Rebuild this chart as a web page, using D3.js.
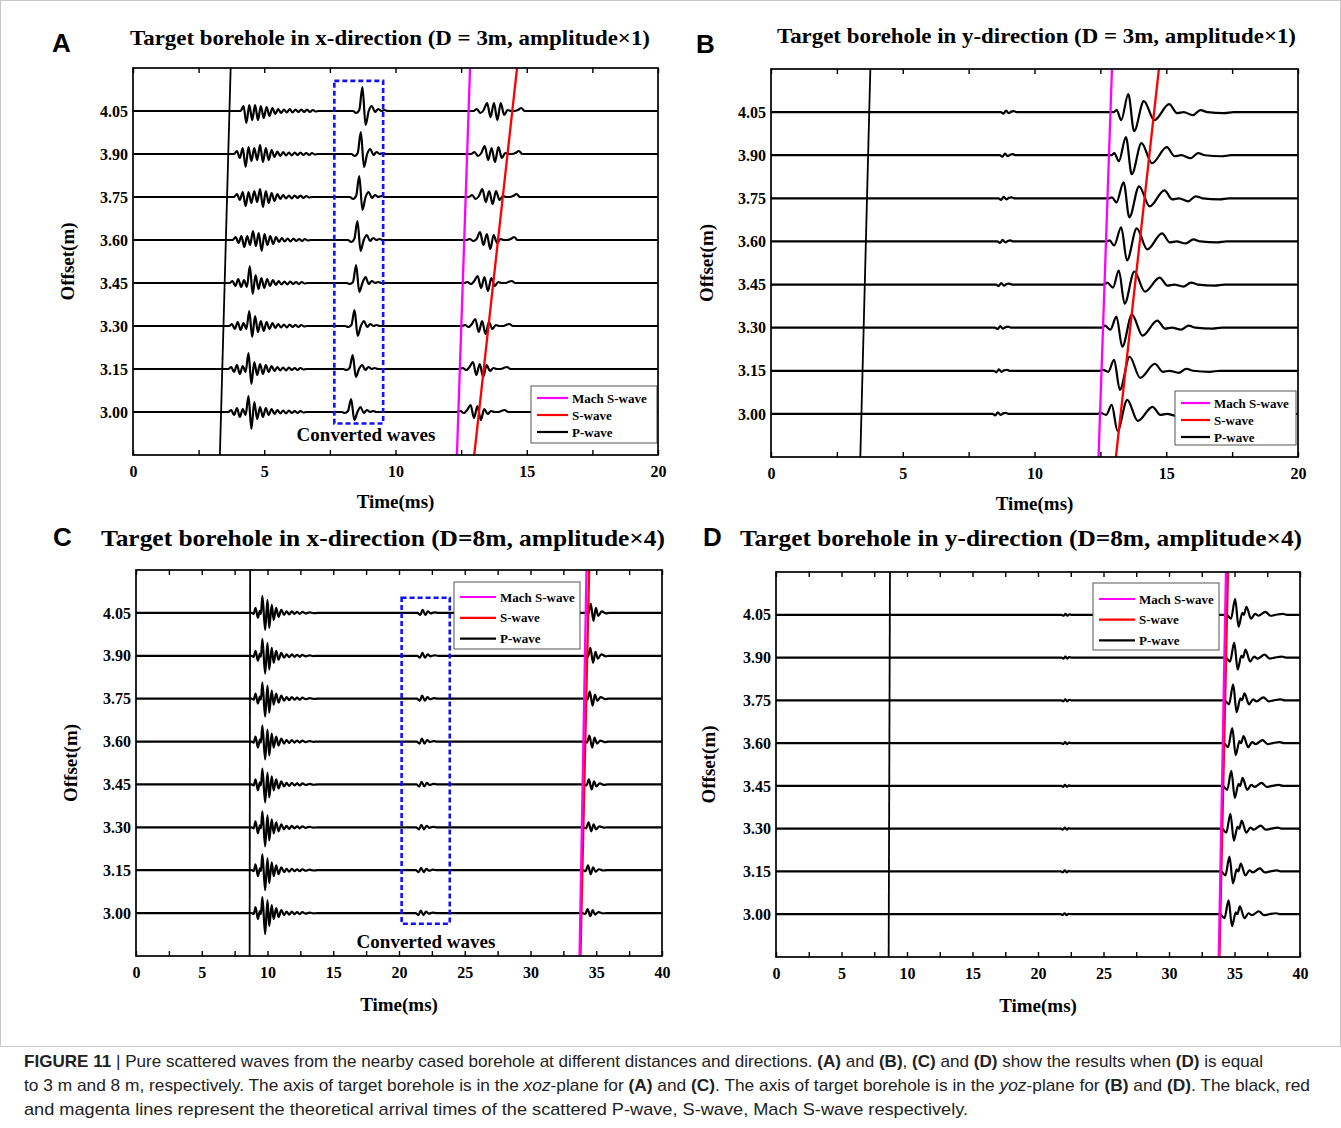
<!DOCTYPE html>
<html><head><meta charset="utf-8">
<script src="https://cdn.jsdelivr.net/npm/d3@7"></script>
<style>body{margin:0;background:#fff}</style>
</head><body>
<svg id="c" width="1341" height="1128"></svg>
<script>
// ---------------- DATA ----------------
const offsets = [4.05, 3.90, 3.75, 3.60, 3.45, 3.30, 3.15, 3.00];
const xTicks20 = [0, 5, 10, 15, 20];
const xTicks40 = [0, 5, 10, 15, 20, 25, 30, 35, 40];
const legendLabels = ["Mach S-wave", "S-wave", "P-wave"];
// theoretical arrivals: time (ms) at offset 2.85 m and at 4.20 m  [P, S, Mach]
const arrivalOffsets = [2.85, 4.20];
const arrivalsA = [[3.31, 3.72], [13.00, 14.63], [12.34, 12.84]];
const arrivalsB = [[3.39, 3.77], [13.09, 14.72], [12.43, 12.94]];
const arrivalsC = [[8.64, 8.68], [33.80, 34.46], [33.73, 34.26]];
const arrivalsD = [[8.60, 8.70], [33.85, 34.50], [33.80, 34.35]];
// converted-wave boxes: [t0, t1, off0, off1]
const boxA = [7.67, 9.53, 2.96, 4.155];
const boxC = [20.20, 23.86, 2.963, 4.103];

// trace segments. either [t0, dt, [amplitudes]] (regular samples) or [[t, amp], ...]
// amplitude unit: 1 = 1/43 of the 0.15 m trace spacing
const codaA = [
 [4.10,0.11,[0,5,-12,6,-9,6,-9,5,-7,4,-5,3,-3,2,-2,1.5,-1.5,2,-1.5,1.5,-1,1.5,-1,1.5,-1,1,-0.5,0]],
 [3.85,0.11,[0,3,-4,6,-13,7,-7,6,-6,9,-8,6,-6,4,-3,2.5,-2,2,-1.5,1.5,-1.5,1.5,-1,1.5,-1,1,-1,1,-0.5,0]],
 [3.85,0.11,[0,3,-3,5,-9,5,-6,6,-5,8,-10,6,-6,4,-4,3,-2,2,-1.5,1.5,-1.5,1.5,-1,1.5,-1,1,-0.5,0]],
 [3.80,0.11,[0,3,-3,4,-7,4,-5,9,-6,7,-11,6,-5,4,-4,3,-2,2,-1.5,1.5,-1.5,1.5,-1,1,-1,1,-0.5,0]],
 [3.68,0.11,[0,2,-3,4,-4,3,-4,17,-11,8,-6,5,-5,4,-3,3,-2,2,-1.5,1.5,-1.5,1.5,-1,1,-1,1,-0.5,0]],
 [3.66,0.11,[0,2,-3,4,-4,3,-3,15,-11,10,-6,5,-5,4,-3,3,-2,2,-1.5,1.5,-1.5,1.5,-1,1,-1,1,-0.5,0]],
 [3.63,0.11,[0,2,-3,4,-5,3,-3,16,-15,7,-6,5,-5,4,-3,3,-2,2,-1.5,1.5,-1.5,1.5,-1,1,-1,1,-0.5,0]],
 [3.63,0.11,[0,2,-3,4,-5,3,-3,16,-17,10,-7,5,-5,4,-3,3,-2,2,-1.5,1.5,-1.5,1.5,-1,1,-1,1,-0.5,0]]
];
const convA = [
 [8.38,0.12,[0,-2,1,24,-14,0,5,-1,2,0,1,0]],
 [8.32,0.12,[0,-2,1,22,-13,0,5,-1,2,0,1,0]],
 [8.26,0.12,[0,-2,1,21,-13,0,5,-1,2,0,1,0]],
 [8.19,0.12,[0,-2,1,19,-11,0,5,-1,2,0,1,0]],
 [8.14,0.12,[0,-1,1,18,-9,0,6,-1,2,0,1,0]],
 [8.08,0.12,[0,-1,1,16,-10,0,5,-1,2,0,1,0]],
 [8.01,0.12,[0,-1,1,14,-8,0,4,-1,2,0,1,0]],
 [7.95,0.12,[0,-1,1,13,-8,0,5,-1,2,0,1,0]]
];
const shearA = [
 [12.97,0.13,[0,2,-2,1,8,-6,8,-9,8,-4,1,0,0,1,3,0]],
 [12.88,0.13,[0,2,-2,1,8,-6,6,-8,7,-4,1,0,0,1,3,0]],
 [12.79,0.13,[0,2,-2,1,8,-5,6,-7,6,-3,1,0,0,1,3,0]],
 [12.70,0.13,[0,1,-1,1,8,-5,6,-9,5,-3,1,0,0,1,3,0]],
 [12.61,0.13,[0,1,-1,2,7,-5,6,-8,5,-3,1,0,0,1,2,0]],
 [12.52,0.13,[0,1,-1,2,7,-6,5,-8,4,-3,1,0,0,1,2,0]],
 [12.43,0.13,[0,1,-1,2,7,-6,5,-8,4,-2,1,0,0,1,2,0]],
 [12.34,0.13,[0,1,-1,2,7,-6,6,-8,3,-2,1,0,0,1,2,0]]
];
const preB = [
 [8.72,0.1,[0,-1.5,1.5,-1,0.5,1,0]], [8.68,0.1,[0,-1.5,1.5,-1,0.5,1,0]],
 [8.63,0.1,[0,-1.5,1.5,-1,0.5,1,0]], [8.59,0.1,[0,-1.5,1.5,-1,0.5,1,0]],
 [8.54,0.1,[0,-1.5,1.5,-1,0.5,1,0]], [8.50,0.1,[0,-1.5,1.5,-1,0.5,1,0]],
 [8.45,0.1,[0,-1.5,1.5,-1,0.5,1,0]], [8.41,0.1,[0,-1.5,1.5,-1,0.5,1,0]]
];
const shearB = [
 [[13.01,0],[13.12,2],[13.29,-8],[13.56,18],[13.78,-19],[14.15,11],[14.55,-8],[15.11,8],[15.41,-1],[15.66,0],[16.01,-3],[16.30,2],[16.56,0],[17.20,-1],[17.56,0]],
 [[12.92,0],[13.03,2],[13.20,-6],[13.47,18],[13.69,-19],[14.06,12],[14.46,-8],[15.02,8],[15.32,-1],[15.57,0],[15.92,-3],[16.21,2],[16.47,0],[17.11,-1],[17.47,0]],
 [[12.83,0],[12.94,1],[13.11,-4],[13.38,16],[13.60,-19],[13.97,12],[14.37,-8],[14.93,8],[15.23,-1],[15.48,0],[15.83,-3],[16.12,2],[16.38,0],[17.02,-1],[17.38,0]],
 [[12.74,0],[12.85,1],[13.02,-4],[13.29,14],[13.51,-19],[13.88,13],[14.28,-8],[14.84,8],[15.14,-1],[15.39,0],[15.74,-2],[16.03,2],[16.29,0],[16.93,-1],[17.29,0]],
 [[12.65,0],[12.76,2],[12.98,-3],[13.20,14],[13.42,-19],[13.79,13],[14.19,-7],[14.75,7],[15.05,-1],[15.30,0],[15.65,-2],[15.94,2],[16.20,0],[16.84,-1],[17.20,0]],
 [[12.56,0],[12.67,2],[12.88,-2],[13.11,11],[13.33,-19],[13.70,13],[14.10,-8],[14.66,7],[14.96,-1],[15.21,0],[15.56,-2],[15.85,2],[16.11,0],[16.75,-1],[17.11,0]],
 [[12.47,0],[12.60,1],[12.80,-1],[13.02,11],[13.24,-19],[13.61,14],[14.01,-7],[14.57,7],[14.87,-1],[15.12,0],[15.47,-2],[15.76,2],[16.02,0],[16.66,-1],[17.02,0]],
 [[12.38,0],[12.50,1],[12.72,-1],[12.93,9],[13.15,-17],[13.52,14],[13.92,-7],[14.48,7],[14.78,-1],[15.03,0],[15.38,-2],[15.67,2],[15.93,0],[16.57,-1],[16.93,0]]
];
const codaC = [
 [[8.8,0],[8.95,-1],[9.09,5],[9.27,-5],[9.42,2],[9.5,-1],[9.61,17],[9.82,-17],[10.0,13],[10.13,-15],[10.32,8],[10.47,-7],[10.66,5],[10.84,-4],[11.05,3],[11.26,-2],[11.45,1.5],[11.65,-1.5],[11.85,1.5],[12.05,-1],[12.25,1],[12.45,-1],[12.65,1],[12.9,-0.5],[13.2,0.5],[13.5,-0.3],[13.8,0]],
 [[8.8,0],[8.95,-1],[9.09,5],[9.27,-5],[9.42,2],[9.5,-1],[9.61,17],[9.82,-18],[10.0,13],[10.13,-14],[10.32,8],[10.47,-7],[10.66,5],[10.84,-4],[11.05,3],[11.26,-2],[11.45,1.5],[11.65,-1.5],[11.85,1.5],[12.05,-1],[12.25,1],[12.45,-1],[12.65,1],[12.9,-0.5],[13.2,0.5],[13.5,-0.3],[13.8,0]],
 [[8.8,0],[8.95,-1],[9.09,5],[9.27,-5],[9.42,2],[9.5,-1],[9.61,16],[9.82,-18],[10.0,13],[10.13,-14],[10.32,8],[10.47,-6],[10.66,5],[10.84,-4],[11.05,3],[11.26,-2],[11.45,1.5],[11.65,-1.5],[11.85,1.5],[12.05,-1],[12.25,1],[12.45,-1],[12.65,1],[12.9,-0.5],[13.2,0.5],[13.5,-0.3],[13.8,0]],
 [[8.8,0],[8.95,-1],[9.09,5],[9.27,-6],[9.42,2],[9.5,-1],[9.61,16],[9.82,-18],[10.0,12],[10.13,-14],[10.32,8],[10.47,-6],[10.66,5],[10.84,-4],[11.05,3],[11.26,-2],[11.45,1.5],[11.65,-1.5],[11.85,1.5],[12.05,-1],[12.25,1],[12.45,-1],[12.65,1],[12.9,-0.5],[13.2,0.5],[13.5,-0.3],[13.8,0]],
 [[8.8,0],[8.95,-1],[9.09,5],[9.27,-6],[9.42,2],[9.5,-1],[9.61,16],[9.82,-18],[10.0,12],[10.13,-13],[10.32,8],[10.47,-6],[10.66,5],[10.84,-4],[11.05,3],[11.26,-2],[11.45,1.5],[11.65,-1.5],[11.85,1.5],[12.05,-1],[12.25,1],[12.45,-1],[12.65,1],[12.9,-0.5],[13.2,0.5],[13.5,-0.3],[13.8,0]],
 [[8.8,0],[8.95,-1],[9.09,6],[9.27,-6],[9.42,2],[9.5,-1],[9.61,16],[9.82,-19],[10.0,12],[10.13,-13],[10.32,8],[10.47,-6],[10.66,5],[10.84,-4],[11.05,3],[11.26,-2],[11.45,1.5],[11.65,-1.5],[11.85,1.5],[12.05,-1],[12.25,1],[12.45,-1],[12.65,1],[12.9,-0.5],[13.2,0.5],[13.5,-0.3],[13.8,0]],
 [[8.8,0],[8.95,-1],[9.09,6],[9.27,-6],[9.42,2],[9.5,-1],[9.61,16],[9.82,-20],[10.0,12],[10.13,-13],[10.32,8],[10.47,-6],[10.66,5],[10.84,-4],[11.05,3],[11.26,-2],[11.45,1.5],[11.65,-1.5],[11.85,1.5],[12.05,-1],[12.25,1],[12.45,-1],[12.65,1],[12.9,-0.5],[13.2,0.5],[13.5,-0.3],[13.8,0]],
 [[8.8,0],[8.95,-1],[9.09,6],[9.27,-6],[9.42,2],[9.5,-1],[9.61,16],[9.82,-21],[10.0,13],[10.13,-13],[10.32,8],[10.47,-6],[10.66,5],[10.84,-4],[11.05,3],[11.26,-2],[11.45,1.5],[11.65,-1.5],[11.85,1.5],[12.05,-1],[12.25,1],[12.45,-1],[12.65,1],[12.9,-0.5],[13.2,0.5],[13.5,-0.3],[13.8,0]]
];
const convC = [
 [[21.40,0],[21.62,-2],[21.80,3],[22.00,-2],[22.20,1.5],[22.40,-0.5],[22.70,0.5],[23.00,0]],
 [[21.38,0],[21.60,-2],[21.78,3],[21.98,-2],[22.18,1.5],[22.38,-0.5],[22.68,0.5],[22.98,0]],
 [[21.36,0],[21.58,-2],[21.76,3],[21.96,-2],[22.16,1.5],[22.36,-0.5],[22.66,0.5],[22.96,0]],
 [[21.34,0],[21.56,-2],[21.74,3],[21.94,-2],[22.14,1.5],[22.34,-0.5],[22.64,0.5],[22.94,0]],
 [[21.32,0],[21.54,-2],[21.72,2.5],[21.92,-2],[22.12,1.5],[22.32,-0.5],[22.62,0.5],[22.92,0]],
 [[21.30,0],[21.52,-2],[21.70,2.5],[21.90,-2],[22.10,1.5],[22.30,-0.5],[22.60,0.5],[22.90,0]],
 [[21.28,0],[21.50,-2],[21.68,2.5],[21.88,-2],[22.08,1.5],[22.28,-0.5],[22.58,0.5],[22.88,0]],
 [[21.26,0],[21.48,-2],[21.66,2.5],[21.86,-2],[22.06,1.5],[22.26,-0.5],[22.56,0.5],[22.86,0]]
];
const shearC = [
 [[34.20,0],[34.40,-1],[34.58,9],[34.79,-8],[34.97,5],[35.15,-3],[35.41,1.5],[35.75,-0.5],[36.00,0]],
 [[34.17,0],[34.37,-1],[34.55,8],[34.76,-7],[34.94,4],[35.12,-3],[35.38,1.5],[35.72,-0.5],[35.97,0]],
 [[34.13,0],[34.33,-1],[34.51,7],[34.72,-7],[34.90,4],[35.08,-2],[35.34,1.5],[35.68,-0.5],[35.93,0]],
 [[34.10,0],[34.30,-1],[34.48,6],[34.69,-6],[34.87,4],[35.05,-2],[35.31,1],[35.65,-0.5],[35.90,0]],
 [[34.06,0],[34.26,-1],[34.44,5],[34.65,-5],[34.83,3],[35.01,-2],[35.27,1],[35.61,-0.5],[35.86,0]],
 [[34.03,0],[34.23,-1],[34.41,5],[34.62,-4],[34.80,3],[34.98,-2],[35.24,1],[35.58,-0.3],[35.83,0]],
 [[33.99,0],[34.19,-1],[34.37,5],[34.58,-4],[34.76,3],[34.94,-1.5],[35.20,1],[35.54,-0.3],[35.79,0]],
 [[33.96,0],[34.16,-1],[34.34,4],[34.55,-3],[34.73,3],[34.91,-1.5],[35.17,1],[35.51,-0.3],[35.76,0]]
];
const preD = [
 [21.80,0.15,[0,-1,1,-1,0.5,0]], [21.79,0.15,[0,-1,1,-1,0.5,0]],
 [21.78,0.15,[0,-1,1,-1,0.5,0]], [21.77,0.15,[0,-1,1,-1,0.5,0]],
 [21.76,0.15,[0,-1,1,-1,0.5,0]], [21.75,0.15,[0,-1,1,-1,0.5,0]],
 [21.74,0.15,[0,-1,1,-1,0.5,0]], [21.73,0.15,[0,-1,1,-1,0.5,0]]
];
const shearD = [
 [[34.40,0],[34.73,-4],[35.05,16],[35.31,-12],[35.60,2],[35.72,0],[35.91,8],[36.26,-4],[36.57,1],[36.83,-1],[37.36,3],[37.75,-1],[38.14,0],[38.67,1],[39.00,0]],
 [[34.33,0],[34.66,-4],[34.98,15],[35.24,-12],[35.53,2],[35.65,0],[35.84,8],[36.19,-4],[36.50,1],[36.76,-1],[37.29,3],[37.68,-1],[38.07,0],[38.60,1],[38.93,0]],
 [[34.25,0],[34.58,-4],[34.90,16],[35.16,-12],[35.45,2],[35.57,0],[35.76,7],[36.11,-4],[36.42,1],[36.68,-1],[37.21,3],[37.60,-1],[37.99,0],[38.52,1],[38.85,0]],
 [[34.18,0],[34.51,-4],[34.83,15],[35.09,-12],[35.38,2],[35.50,0],[35.69,7],[36.04,-4],[36.35,1],[36.61,-1],[37.14,3],[37.53,-1],[37.92,0],[38.45,1],[38.78,0]],
 [[34.11,0],[34.44,-4],[34.76,15],[35.02,-12],[35.31,2],[35.43,0],[35.62,8],[35.97,-4],[36.28,1],[36.54,-1],[37.07,3],[37.46,-1],[37.85,0],[38.38,1],[38.71,0]],
 [[34.04,0],[34.37,-4],[34.69,15],[34.95,-12],[35.24,2],[35.36,0],[35.55,8],[35.90,-4],[36.21,1],[36.47,-1],[37.00,3],[37.39,-1],[37.78,0],[38.31,1],[38.64,0]],
 [[33.97,0],[34.30,-4],[34.62,15],[34.88,-12],[35.17,2],[35.29,0],[35.48,8],[35.83,-4],[36.14,1],[36.40,-1],[36.93,3],[37.32,-1],[37.71,0],[38.24,1],[38.57,0]],
 [[33.90,0],[34.23,-4],[34.55,14],[34.81,-12],[35.10,2],[35.22,0],[35.41,8],[35.76,-4],[36.07,1],[36.33,-1],[36.86,3],[37.25,-1],[37.64,0],[38.17,1],[38.50,0]]
];

// ---------------- DRAW ----------------
const svg = d3.select("#c");
const serif = "'Liberation Serif','Times New Roman',serif";
const sans = "'Liberation Sans',Arial,sans-serif";
const gain = 0.15 / 43;
const colors = {mach: "#ff00ff", s: "#ff0000", p: "#000000"};

svg.append("rect").attr("x",0.5).attr("y",0.5).attr("width",1340).attr("height",1046)
  .attr("fill","none").attr("stroke","#c8c8c8").attr("stroke-width",1);

function toKnots(seg){
  if (typeof seg[0] === "number") { const [t0, dt, v] = seg; return v.map((a,i)=>[t0 + i*dt, a]); }
  return seg;
}

function fitWidth(sel, target){
  sel.attr("textLength", target).attr("lengthAdjust","spacingAndGlyphs");
}

function drawPanel(cfg){
  const x = d3.scaleLinear().domain([0, cfg.tmax]).range([cfg.left, cfg.right]);
  const y = d3.scaleLinear().domain([2.85, 4.20]).range([cfg.bottom, cfg.top]);
  const g = svg.append("g");
  const clipId = "clip" + cfg.id;
  svg.append("clipPath").attr("id", clipId).append("rect")
    .attr("x", cfg.left).attr("y", cfg.top).attr("width", cfg.right-cfg.left).attr("height", cfg.bottom-cfg.top);
  const plot = g.append("g").attr("clip-path", `url(#${clipId})`);

  // traces
  offsets.forEach((off, i) => {
    let knots = [[0, 0]];
    cfg.segs.forEach(arr => { knots = knots.concat(toKnots(arr[i])); });
    knots.push([cfg.tmax, 0]);
    knots.sort((a,b)=>a[0]-b[0]);
    const clean = knots.filter((d,k)=> k===0 || d[0] - knots[k-1][0] > 1e-6);
    const line = d3.line().x(d=>x(d[0])).y(d=>y(off + d[1]*gain)).curve(d3.curveMonotoneX);
    plot.append("path").attr("d", line(clean)).attr("fill","none")
      .attr("stroke","#000").attr("stroke-width",2.2).attr("stroke-linejoin","round");
  });

  // arrival lines: P, S, Mach
  const arrColors = [colors.p, colors.s, colors.mach];
  const arrWidth = [1.8, 2.3, 2.3];
  cfg.arrivals.forEach((a, k) => {
    plot.append("line")
      .attr("x1", x(a[0])).attr("y1", y(arrivalOffsets[0]))
      .attr("x2", x(a[1])).attr("y2", y(arrivalOffsets[1]))
      .attr("stroke", arrColors[k]).attr("stroke-width", arrWidth[k]);
  });

  // converted waves box
  if (cfg.box){
    const b = cfg.box;
    g.append("rect").attr("x", x(b[0])).attr("y", y(b[3]))
      .attr("width", x(b[1]) - x(b[0])).attr("height", y(b[2]) - y(b[3]))
      .attr("fill","none").attr("stroke","#1010ff").attr("stroke-width",2.6)
      .attr("stroke-dasharray","5,3");
    g.append("text").attr("x", cfg.convText[0]).attr("y", cfg.convText[1])
      .attr("text-anchor","middle").attr("font-family",serif).attr("font-weight","bold")
      .attr("font-size",19).text("Converted waves");
  }

  // legend
  const L = cfg.legend;
  g.append("rect").attr("x",L.x).attr("y",L.y).attr("width",L.w).attr("height",L.h)
    .attr("fill","#fff").attr("stroke","#555").attr("stroke-width",1);
  const legColors = [colors.mach, colors.s, colors.p];
  legendLabels.forEach((lab,k)=>{
    const yy = L.y + L.first + k*L.step;
    g.append("line").attr("x1",L.x+6).attr("x2",L.x+L.lw).attr("y1",yy).attr("y2",yy)
      .attr("stroke",legColors[k]).attr("stroke-width",2.2);
    g.append("text").attr("x",L.x+L.lw+4).attr("y",yy).attr("dy","0.35em")
      .attr("font-family",serif).attr("font-weight","bold").attr("font-size",13).text(lab);
  });

  // frame
  g.append("rect").attr("x",cfg.left).attr("y",cfg.top).attr("width",cfg.right-cfg.left)
    .attr("height",cfg.bottom-cfg.top).attr("fill","none").attr("stroke","#000").attr("stroke-width",1.7);

  // axes
  const minor = d3.range(0, cfg.tmax + 0.001, 2.5);
  const ax = g.append("g").attr("transform",`translate(0,${cfg.bottom})`)
    .call(d3.axisBottom(x).tickValues(minor).tickSize(-5).tickPadding(11)
      .tickFormat(d => cfg.ticks.includes(d) ? d3.format("d")(d) : ""));
  const at = g.append("g").attr("transform",`translate(0,${cfg.top})`)
    .call(d3.axisTop(x).tickValues(minor).tickSize(-5).tickFormat(""));
  const ay = g.append("g").attr("transform",`translate(${cfg.left},0)`)
    .call(d3.axisLeft(y).tickValues(offsets).tickSize(0).tickPadding(5).tickFormat(d3.format(".2f")));
  [ax, at, ay].forEach(a => {
    a.select(".domain").remove();
    a.selectAll("line").attr("stroke","#000").attr("stroke-width",1.4);
    a.selectAll("text").attr("font-family",serif).attr("font-weight","bold").attr("font-size",16).attr("fill","#000");
  });

  // axis titles
  g.append("text").attr("x",(cfg.left+cfg.right)/2).attr("y",cfg.bottom+cfg.xTitleDy)
    .attr("text-anchor","middle").attr("font-family",serif).attr("font-weight","bold")
    .attr("font-size",19).text("Time(ms)");
  g.append("text").attr("transform",`translate(${cfg.yTitleX},${(cfg.top+cfg.bottom)/2}) rotate(-90)`)
    .attr("text-anchor","middle").attr("dy","0.35em").attr("font-family",serif).attr("font-weight","bold")
    .attr("font-size",19).text("Offset(m)");

  // panel title + letter
  const t = g.append("text").attr("x",cfg.title.x).attr("y",cfg.title.y).attr("font-family",serif)
    .attr("font-weight","bold").attr("font-size",cfg.title.size).text(cfg.title.text);
  fitWidth(t, cfg.title.w);
  g.append("text").attr("x",cfg.letter[0]).attr("y",cfg.letter[1]).attr("font-family",sans)
    .attr("font-weight","bold").attr("font-size",26).text(cfg.id);
}

drawPanel({id:"A", left:133, right:658, top:68, bottom:455, tmax:20, ticks:xTicks20,
  segs:[codaA, convA, shearA], arrivals:arrivalsA, box:boxA, convText:[366,441],
  legend:{x:531,y:386,w:126,h:57,first:12,step:17,lw:37},
  xTitleDy:53, yTitleX:67,
  title:{text:"Target borehole in x-direction (D = 3m, amplitude×1)", x:130, y:45, size:22, w:520},
  letter:[52,52]});
drawPanel({id:"B", left:771, right:1298, top:69, bottom:457, tmax:20, ticks:xTicks20,
  segs:[preB, shearB], arrivals:arrivalsB, box:null,
  legend:{x:1175,y:391,w:121,h:54,first:12,step:17,lw:35},
  xTitleDy:53, yTitleX:706,
  title:{text:"Target borehole in y-direction (D = 3m, amplitude×1)", x:777, y:43, size:22, w:519},
  letter:[696,53]});
drawPanel({id:"C", left:136, right:662, top:570, bottom:956, tmax:40, ticks:xTicks40,
  segs:[codaC, convC, shearC], arrivals:arrivalsC, box:boxC, convText:[426,948],
  legend:{x:454,y:582,w:126,h:67,first:15,step:20.8,lw:42},
  xTitleDy:55, yTitleX:70,
  title:{text:"Target borehole in x-direction (D=8m, amplitude×4)", x:101, y:546, size:24, w:564},
  letter:[53,546]});
drawPanel({id:"D", left:776, right:1300, top:572, bottom:957, tmax:40, ticks:xTicks40,
  segs:[preD, shearD], arrivals:arrivalsD, box:null,
  legend:{x:1093,y:583,w:126,h:67,first:16,step:20.7,lw:42},
  xTitleDy:55, yTitleX:708,
  title:{text:"Target borehole in y-direction (D=8m, amplitude×4)", x:740, y:546, size:24, w:562},
  letter:[703,546]});

// caption
const capLines = [
 [["FIGURE 11","b"],[" | ","n"],["Pure scattered waves from the nearby cased borehole at different distances and directions. ","n"],["(A)","b"],[" and ","n"],["(B)","b"],[", ","n"],["(C)","b"],[" and ","n"],["(D)","b"],[" show the results when ","n"],["(D)","b"],[" is equal","n"]],
 [["to 3 m and 8 m, respectively. The axis of target borehole is in the ","n"],["xoz","i"],["-plane for ","n"],["(A)","b"],[" and ","n"],["(C)","b"],[". The axis of target borehole is in the ","n"],["yoz","i"],["-plane for ","n"],["(B)","b"],[" and ","n"],["(D)","b"],[". The black, red","n"]],
 [["and magenta lines represent the theoretical arrival times of the scattered P-wave, S-wave, Mach S-wave respectively.","n"]]
];
const capWidths = [1239, 1286, 944];
const capY = [1067, 1091, 1115];
capLines.forEach((parts, k) => {
  const t = svg.append("text").attr("x",24).attr("y",capY[k]).attr("font-family",sans)
    .attr("font-size",17).attr("fill","#222");
  parts.forEach(p => {
    const ts = t.append("tspan").text(p[0]);
    if (p[1]==="b") ts.attr("font-weight","bold");
    if (p[1]==="i") ts.attr("font-style","italic");
  });
  t.attr("textLength", capWidths[k]).attr("lengthAdjust","spacingAndGlyphs");
});
</script>
</body></html>
